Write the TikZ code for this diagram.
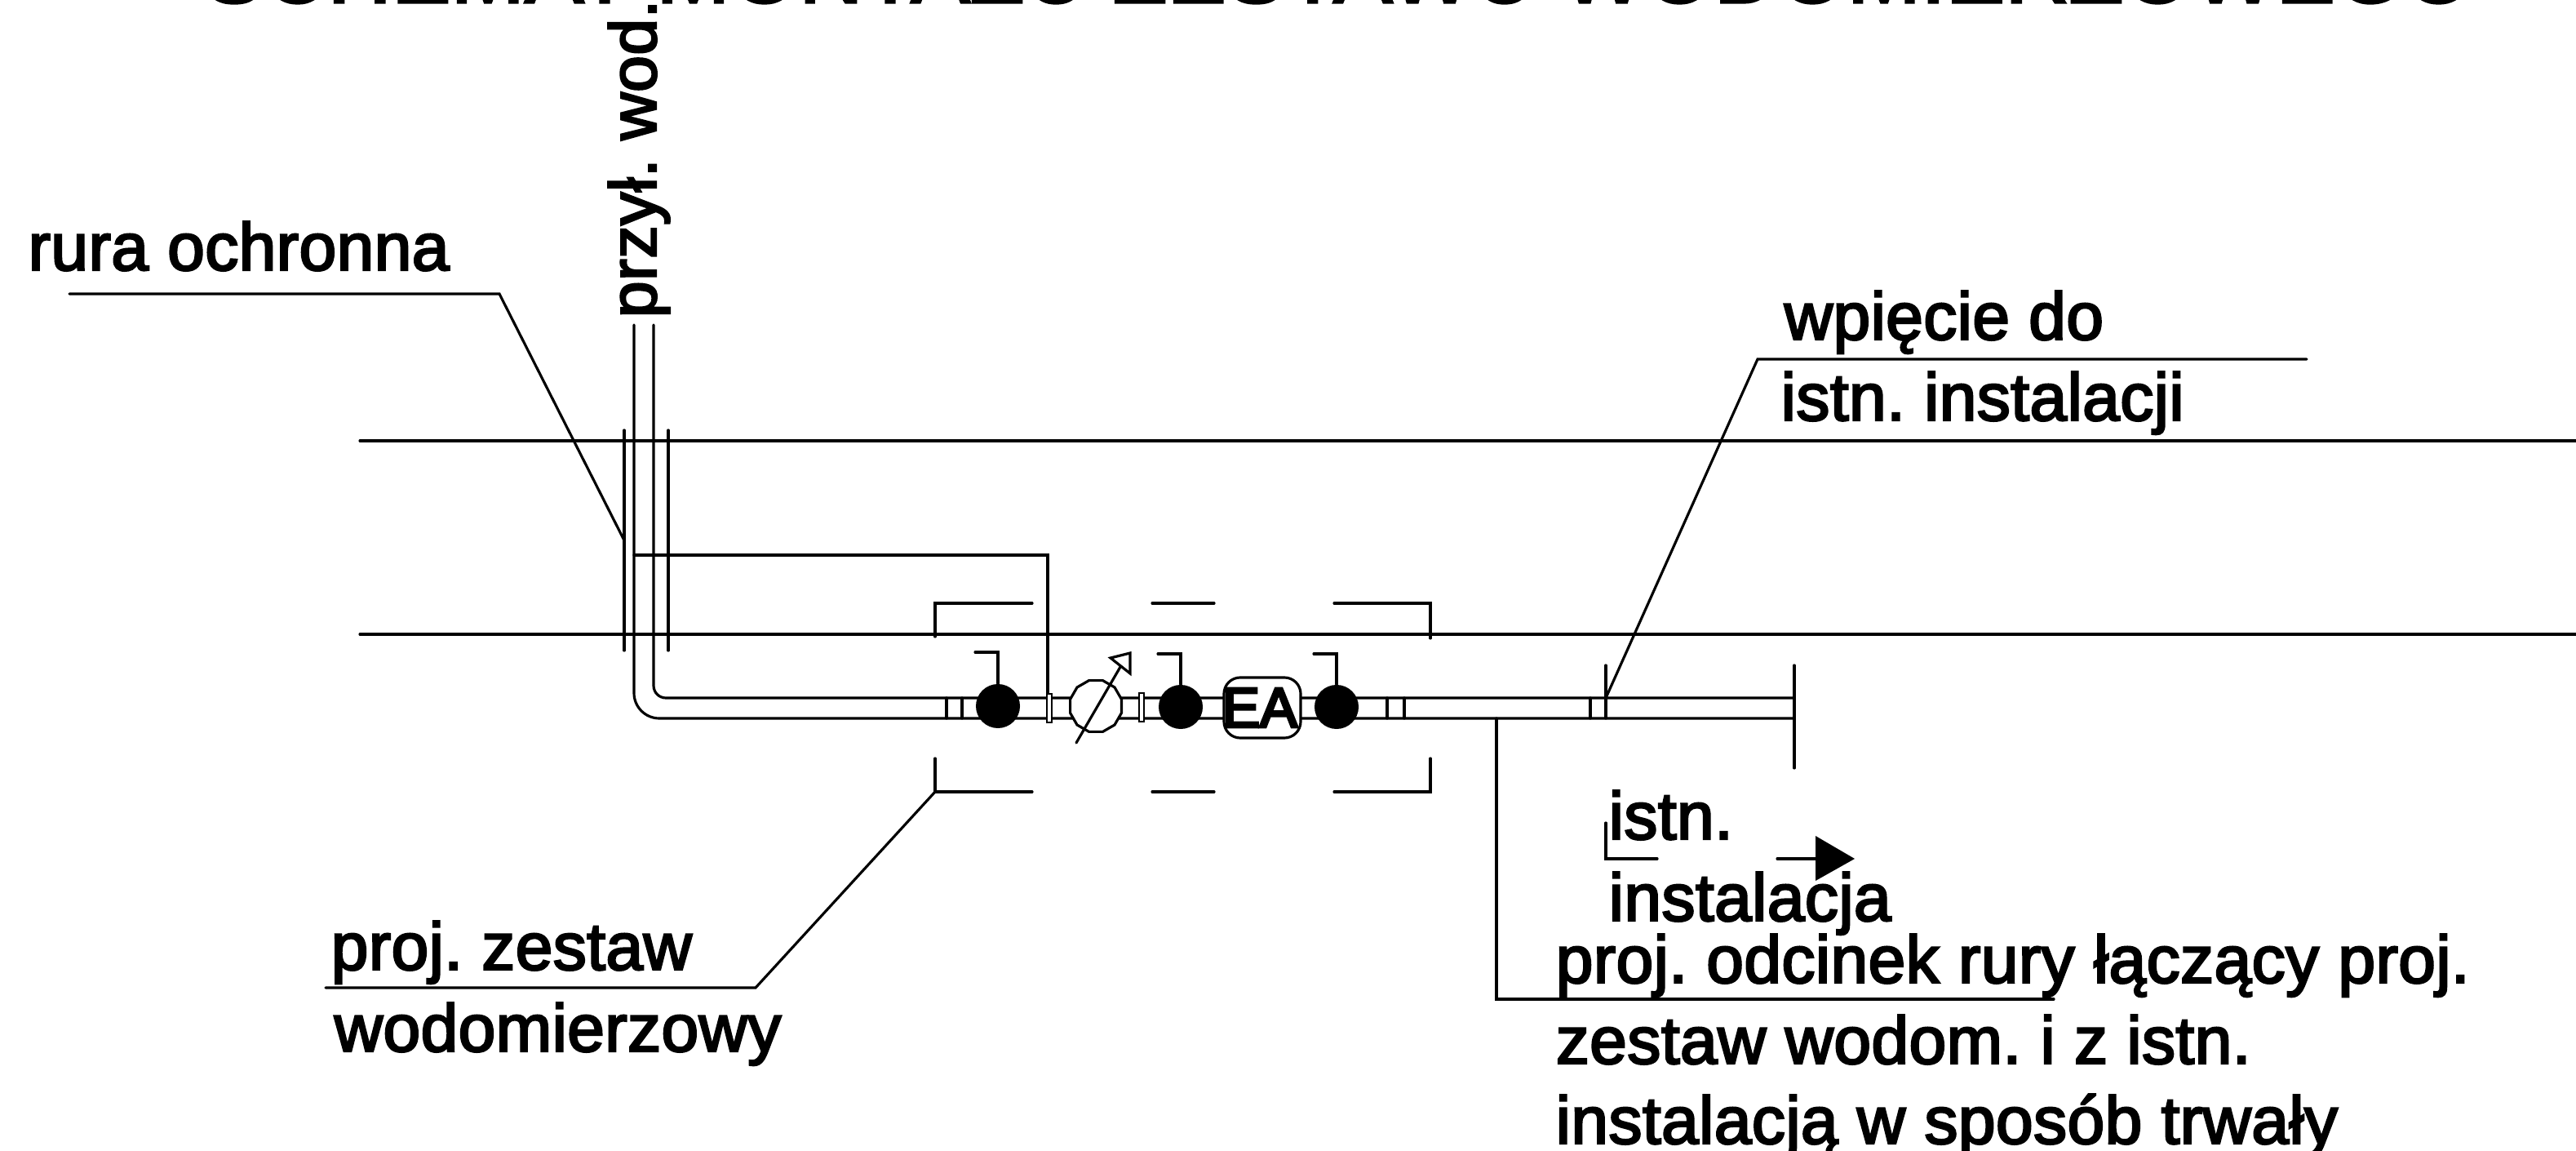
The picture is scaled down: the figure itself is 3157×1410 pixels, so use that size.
\documentclass[tikz,border=0pt]{standalone}
\usepackage{fontspec}
\setmainfont{Liberation Sans}[FakeBold=3, LetterSpace=0.4]
\newfontfamily\eafont{Liberation Sans}[FakeBold=5]
\usetikzlibrary{shapes.geometric}
\frenchspacing

\tikzset{
  cadline/.style={line width=0.9pt, line cap=round, line join=miter},
  labeltext/.style={anchor=base west, inner sep=0pt, font=\fontsize{23.4pt}{28pt}\selectfont},
  zawor/.style={circle, fill=black, inner sep=0pt, minimum size=0.54cm},
  wodomierz/.style={regular polygon, regular polygon sides=12, draw, cadline, fill=white, inner sep=0pt, minimum size=0.65cm},
  skrzynka/.style={draw, cadline, fill=white, rounded corners=0.2cm, inner sep=0pt, minimum width=0.94cm, minimum height=0.74cm, font=\eafont\fontsize{19.6pt}{20pt}\selectfont}
}

\begin{document}
\begin{tikzpicture}[x=0.01cm, y=-0.01cm]
            \useasboundingbox (0,0) rectangle (3157,1410);

            % Tytul
            \node[anchor=base west, inner sep=0pt, font=\fontsize{30.75pt}{34pt}\selectfont] (tytul) at (250,3) {SCHEMAT MONTAŻU ZESTAWU WODOMIERZOWEGO};

            % Sciana
            \draw[cadline] (441,540) -- (3157,540);
            \draw[cadline] (441,777) -- (3157,777);

            % Rura przylacza i rura ochronna
            \draw[cadline, rounded corners=0.31cm] (777,398) -- (777,880) -- (2199,880);
            \draw[cadline, rounded corners=0.15cm] (801,398) -- (801,855) -- (2199,855);
            \draw[cadline] (765,527) -- (765,797);
            \draw[cadline] (819,527) -- (819,797);
            \node[labeltext, rotate=90, font=\fontsize{23pt}{28pt}\selectfont] (przylacze) at (804,390) {przył. wod.};

            % Odnosnik rura ochronna
            \coordinate (ruraA) at (85,360);
            \coordinate (ruraB) at (612,360);
            \coordinate (ruraC) at (765,662);
            \draw[cadline] (ruraA) -- (ruraB) -- (ruraC);
            \node[labeltext] (rura) at (34,331) {rura ochronna};

            % Linia do kolnierza
            \draw[cadline] (777,680) -- (1284,680) -- (1284,850);

            % Obrys zestawu
            \draw[cadline] (1146,780) -- (1146,739) -- (1265,739);
            \draw[cadline] (1635,739) -- (1753,739) -- (1753,782);
            \draw[cadline] (1146,929) -- (1146,970) -- (1265,970);
            \draw[cadline] (1635,970) -- (1753,970) -- (1753,929);
            \foreach \y in {739, 970} {
                \draw[cadline] (1412,\y) -- (1488,\y);
            }

            % Znaczniki na rurze
            \foreach \x/\g in {1160/855, 1179/855, 1700/855, 1721/855, 1949/855, 1968/815} {
                \draw[cadline] (\x,\g) -- (\x,880);
            }
            \draw[cadline] (2199,815) -- (2199,941);

            % Kolnierze
            \draw[line width=0.6pt, fill=white] (1283,850) rectangle (1289,885);
            \draw[line width=0.6pt, fill=white] (1396,849) rectangle (1402,884);

            % Zawory
            \foreach \x/\y/\g/\k/\n in {1223/865/799/1195/zaworA, 1447/866/801/1419/zaworB, 1638/866/801/1610/zaworC} {
                \node[zawor] (\n) at (\x,\y) {};
                \draw[cadline] (\n.north) -- (\x,\g) -- (\k,\g);
            }

            % Wodomierz
            \node[wodomierz] (licznik) at (1343,865) {};
            \coordinate (strzalkaA) at (1319,910);
            \coordinate (strzalkaB) at (1373,817);
            \draw[cadline] (strzalkaA) -- (strzalkaB);
            \draw[cadline] (1361,806) -- (1385,800) -- (1385,825) -- cycle;

            % Skrzynka EA
            \node[skrzynka] (ea) at (1547,867) {\hspace{-0.06cm}EA};

            % Odnosnik zestaw
            \coordinate (zestawA) at (1146,970);
            \coordinate (zestawB) at (926,1210);
            \coordinate (zestawC) at (399,1210);
            \draw[cadline] (zestawA) -- (zestawB) -- (zestawC);
            \node[labeltext] (zestaw) at (405,1188) {proj. zestaw};
            \node[labeltext] (wodomierzowy) at (409,1288) {wodomierzowy};

            % Odnosnik wpiecie
            \coordinate (wpiecieA) at (1968,855);
            \coordinate (wpiecieB) at (2154,440);
            \coordinate (wpiecieC) at (2827,440);
            \draw[cadline] (wpiecieA) -- (wpiecieB) -- (wpiecieC);
            \node[labeltext] (wpiecie) at (2186,416) {wpięcie do};
            \node[labeltext] (istniejaca) at (2182,515) {istn. instalacji};

            % Kierunek istn. instalacji
            \draw[cadline] (1968,1008) -- (1968,1052) -- (2031,1052);
            \draw[cadline] (2178,1052) -- (2225,1052);
            \fill (2225,1024) -- (2273,1052) -- (2225,1079) -- cycle;
            \node[labeltext] (istn) at (1971,1028) {istn.};
            \node[labeltext] (instalacja) at (1971,1128) {instalacja};

            % Odnosnik odcinek rury
            \coordinate (odcinekA) at (1834,880);
            \coordinate (odcinekB) at (1834,1224);
            \coordinate (odcinekC) at (2517,1224);
            \draw[cadline] (odcinekA) -- (odcinekB) -- (odcinekC);
            \node[labeltext] (odcinekL) at (1906,1204) {proj. odcinek rury łączący proj.};
            \node[labeltext] (odcinekM) at (1906,1303) {zestaw wodom. i z istn.};
            \node[labeltext] (odcinekN) at (1906,1401) {instalacją w sposób trwały};
\end{tikzpicture}
\end{document}
